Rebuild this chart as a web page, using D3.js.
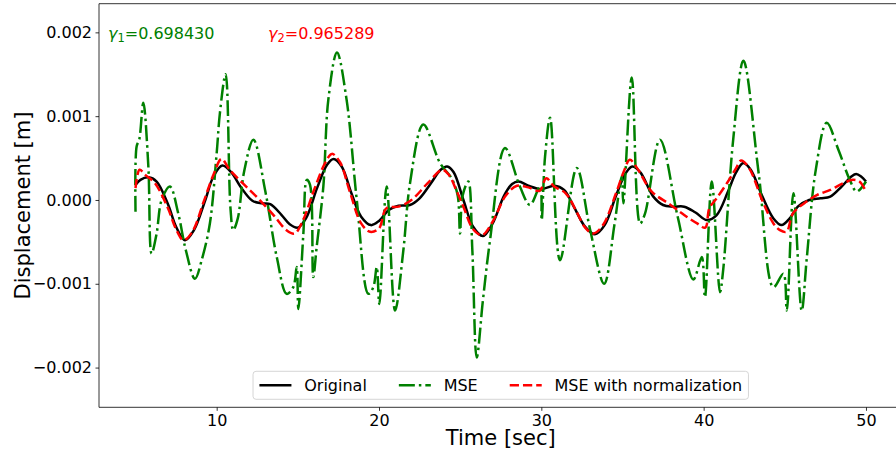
<!DOCTYPE html>
<html><head><meta charset="utf-8">
<script src="https://cdn.jsdelivr.net/npm/d3@7"></script>
<style>body{margin:0;background:#fff} text{font-family:"DejaVu Sans",sans-serif}</style>
</head><body><svg id="c" width="896" height="455"></svg>
<script>
// ---- data: [time (s), displacement (m)] ----
const original = [[5.0,0.00018],[5.3,0.00024],[5.8,0.00027],[6.3,0.00022],[7.0,-0.00005],[7.5,-0.00032],[8.05,-0.00048],[8.6,-0.00036],[9.3,0.0],[9.8,0.00028],[10.35,0.00041],[10.9,0.00033],[11.5,0.00015],[12.2,-0.00001],[12.8,-0.00004],[13.3,-0.00005],[14.0,-0.00018],[14.5,-0.00029],[15.0,-0.00033],[15.5,-0.00022],[16.2,0.00015],[16.8,0.00042],[17.2,0.00049],[17.7,0.00040],[18.3,0.00008],[18.9,-0.00020],[19.5,-0.00030],[20.0,-0.00025],[20.6,-0.00012],[21.2,-0.00007],[21.9,-0.00006],[22.5,0.00002],[23.2,0.00020],[23.8,0.00036],[24.2,0.00040],[24.6,0.00033],[25.2,0.0],[25.8,-0.00032],[26.4,-0.00043],[27.0,-0.00028],[27.7,0.00005],[28.2,0.00019],[28.6,0.00022],[29.2,0.00017],[30.0,0.00013],[30.8,0.00017],[31.4,0.00012],[32.0,-0.00008],[32.7,-0.00032],[33.3,-0.00041],[33.9,-0.00030],[34.6,0.00005],[35.2,0.00032],[35.6,0.00040],[36.1,0.00033],[36.9,0.00004],[37.5,-0.00006],[38.1,-0.00008],[38.8,-0.00008],[39.5,-0.00015],[40.2,-0.00024],[40.8,-0.00018],[41.5,0.00010],[42.0,0.00033],[42.45,0.00044],[42.9,0.00036],[43.6,0.00005],[44.3,-0.00022],[44.8,-0.00030],[45.3,-0.00022],[45.8,-0.00008],[46.5,0.0],[47.2,0.00002],[47.8,0.00004],[48.5,0.00016],[49.1,0.00028],[49.4,0.00031],[49.7,0.00028],[50.0,0.00022]];
const mse = [[5.0,-0.00014],[5.07,0.00064],[5.23,0.00072],[5.48,0.00116],[5.79,0.00040],[5.99,-0.00064],[6.30,-0.00040],[6.61,0.0],[7.12,0.00016],[7.63,-0.00016],[8.1,-0.00060],[8.66,-0.00094],[9.1,-0.00070],[9.58,-0.00028],[10.0,0.00056],[10.2,0.00104],[10.55,0.00150],[10.85,-0.00010],[11.02,-0.00036],[11.3,-0.00022],[11.7,0.00035],[12.26,0.00072],[13.0,0.00010],[13.7,-0.00068],[14.31,-0.00112],[14.72,-0.00104],[14.93,-0.00080],[15.03,-0.00130],[15.34,-0.00040],[15.55,0.00024],[15.75,0.00018],[15.95,-0.00092],[16.16,-0.00056],[16.57,0.00016],[16.88,0.00120],[17.41,0.00176],[18.0,0.00120],[18.63,0.0],[19.34,-0.00112],[19.65,-0.00104],[19.86,-0.00080],[20.02,-0.00124],[20.47,0.00016],[20.99,-0.00132],[21.5,-0.00060],[21.91,0.00020],[22.73,0.00090],[23.76,0.00044],[24.5,0.00025],[24.85,0.00005],[24.99,-0.00040],[25.15,0.00005],[25.5,0.00022],[25.75,-0.00060],[26.02,-0.00188],[26.4,-0.00120],[26.84,-0.00048],[27.76,0.00062],[28.68,0.00016],[29.3,-0.00006],[29.92,0.00016],[30.02,-0.00024],[30.23,0.00052],[30.54,0.00098],[31.15,-0.00072],[32.18,0.00038],[33.0,-0.00035],[33.87,-0.00100],[34.5,-0.00030],[34.95,0.00028],[35.05,-0.00004],[35.57,0.00146],[36.08,-0.00028],[36.39,-0.00016],[37.31,0.00072],[38.4,-0.00020],[39.37,-0.00095],[39.88,-0.00068],[40.08,-0.00116],[40.5,0.00022],[41.01,-0.00110],[41.2,-0.00084],[41.82,0.00072],[42.45,0.00166],[43.4,0.00030],[44.3,-0.00104],[44.91,-0.00088],[45.12,-0.00132],[45.53,0.00008],[46.04,-0.00132],[46.35,-0.00070],[46.9,0.00035],[47.58,0.00092],[48.3,0.00060],[49.0,0.00024],[49.43,0.00010],[50.0,0.00022]];
const mseNorm = [[5.0,0.00014],[5.25,0.00036],[5.6,0.00030],[6.2,0.00020],[7.0,-0.00010],[7.5,-0.00035],[7.95,-0.00048],[8.5,-0.00038],[9.2,-0.00002],[9.8,0.00030],[10.3,0.00049],[10.8,0.00036],[11.6,0.00020],[12.5,0.00003],[13.5,-0.00018],[14.3,-0.00036],[14.8,-0.00040],[15.3,-0.00025],[16.0,0.00012],[16.7,0.00045],[17.1,0.00055],[17.6,0.00045],[18.2,0.00010],[18.9,-0.00028],[19.45,-0.00038],[20.0,-0.00034],[20.45,-0.00010],[21.2,-0.00008],[22.0,0.0],[23.0,0.00020],[23.9,0.00036],[24.3,0.00030],[24.8,0.00010],[25.2,-0.00008],[25.8,-0.00035],[26.35,-0.00042],[27.0,-0.00026],[27.8,0.00005],[28.5,0.00017],[29.2,0.00015],[29.9,0.00011],[30.3,0.00026],[30.8,0.00016],[31.5,0.00008],[32.2,-0.00015],[32.7,-0.00033],[33.2,-0.00040],[33.8,-0.00030],[34.6,0.00008],[35.1,0.00035],[35.45,0.00048],[35.9,0.00038],[36.8,0.00010],[37.9,-0.00005],[38.8,-0.00018],[39.6,-0.00028],[40.1,-0.00033],[40.35,-0.00010],[40.8,0.00002],[41.5,0.00022],[42.0,0.00038],[42.3,0.00047],[42.8,0.00038],[43.6,0.0],[44.3,-0.00028],[44.7,-0.00036],[45.1,-0.00038],[45.5,-0.00016],[46.2,-0.00004],[47.0,0.00006],[47.8,0.00012],[48.6,0.00020],[49.2,0.00024],[49.6,0.00022],[50.0,0.00010]];
const seriesNames = ["Original","MSE","MSE with normalization"];
const xTicks = [10,20,30,40,50];
const yTicks = [-0.002,-0.001,0.000,0.001,0.002];
const gammaSubs = ["1","2"];
const gammaValues = ["0.698430","0.965289"];
const gammaPos = [[3.3,0.00192],[13.16,0.00192]];

// ---- layout ----
const svg = d3.select("#c");
const L = 99, T = 3.7, B = 407.3, R = 902.5;
const x = d3.scaleLinear().domain([2.75, 52.25]).range([L, R]);
const y = d3.scaleLinear().domain([-0.002474, 0.002342]).range([B, T]);

svg.append("rect").attr("width",896).attr("height",455).attr("fill","#fff");
svg.append("defs").append("clipPath").attr("id","clip").append("rect")
  .attr("x",L).attr("y",T).attr("width",R-L).attr("height",B-T);

const line = d3.line().x(d=>x(d[0])).y(d=>y(d[1])).curve(d3.curveCatmullRom.alpha(0.5));
const plot = svg.append("g").attr("clip-path","url(#clip)");
const styles = [
  {data: original, color:"#000000", dash:null},
  {data: mse, color:"#008000", dash:"16,4,2.5,4"},
  {data: mseNorm, color:"#ff0000", dash:"9.25,4"}
];
styles.forEach(s=>{
  plot.append("path").datum(s.data).attr("d",line).attr("fill","none")
    .attr("stroke",s.color).attr("stroke-width",2.5)
    .attr("stroke-dasharray",s.dash).attr("stroke-linejoin","round");
});

// axes
const xAxis = d3.axisBottom(x).tickValues(xTicks).tickSize(3.5).tickPadding(3.5).tickFormat(d3.format("d"));
const yAxis = d3.axisLeft(y).tickValues(yTicks).tickSize(3.5).tickPadding(3.5).tickFormat(d3.format(".3f"));
const gx = svg.append("g").attr("transform",`translate(0,${B})`).call(xAxis);
const gy = svg.append("g").attr("transform",`translate(${L},0)`).call(yAxis);
[gx,gy].forEach(g=>{
  g.select(".domain").remove();
  g.selectAll(".tick line").attr("stroke","#000").attr("stroke-width",0.8);
  g.selectAll(".tick text").attr("fill","#000").style("font-size","16px").style("font-family","DejaVu Sans");
});
// spines
svg.append("line").attr("x1",L).attr("x2",L).attr("y1",T).attr("y2",B).attr("stroke","#000").attr("stroke-width",0.8);
svg.append("line").attr("x1",L).attr("x2",R).attr("y1",B).attr("y2",B).attr("stroke","#000").attr("stroke-width",0.8);
svg.append("line").attr("x1",L).attr("x2",R).attr("y1",T).attr("y2",T).attr("stroke","#000").attr("stroke-width",0.8);
svg.append("line").attr("x1",R).attr("x2",R).attr("y1",T).attr("y2",B).attr("stroke","#000").attr("stroke-width",0.8);

// axis labels
svg.append("text").attr("x",(L+R)/2).attr("y",445).attr("text-anchor","middle")
  .style("font-size","21px").attr("fill","#000").text("Time [sec]");
svg.append("text").attr("transform",`translate(29.5,${(T+B)/2}) rotate(-90)`).attr("text-anchor","middle")
  .style("font-size","21px").attr("fill","#000").text("Displacement [m]");

// gamma annotations
const gColors = ["#008000","#ff0000"];
gammaSubs.forEach((s,i)=>{
  const t = svg.append("text").attr("x",x(gammaPos[i][0])).attr("y",y(gammaPos[i][1]))
    .style("font-size","16px").attr("fill",gColors[i]);
  t.append("tspan").style("font-style","italic").text("γ");
  t.append("tspan").attr("dy",3).style("font-size","11.5px").text(s);
  t.append("tspan").attr("dy",-3).text("=" + gammaValues[i]);
});

// legend
const fs = 16, handleLen = 32, handlePad = 12.8, colSp = 32, pad = 6.4;
const lg = svg.append("g");
const box = lg.append("rect").attr("rx",3).attr("ry",3).attr("fill","#fff").attr("fill-opacity",0.8)
  .attr("stroke","#cccccc").attr("stroke-width",0.8);
let cx = 0;
seriesNames.forEach((n,i)=>{
  const gi = lg.append("g");
  gi.append("line").attr("x1",cx).attr("x2",cx+handleLen).attr("y1",0).attr("y2",0)
    .attr("stroke",styles[i].color).attr("stroke-width",2.5).attr("stroke-dasharray",styles[i].dash);
  const tx = gi.append("text").attr("x",cx+handleLen+handlePad).attr("y",5.6)
    .style("font-size",fs+"px").attr("fill","#000").text(n);
  const w = tx.node().getComputedTextLength();
  cx += handleLen + handlePad + w + (i<seriesNames.length-1 ? colSp : 0);
});
const totalW = cx + 2*pad;
const boxH = 28;
const boxLeft = (L+R)/2 - totalW/2;
const boxTop = B - 8 - boxH;
box.attr("x",-pad).attr("y",-boxH/2).attr("width",totalW).attr("height",boxH);
lg.attr("transform",`translate(${boxLeft+pad},${boxTop+boxH/2})`);
</script></body></html>
